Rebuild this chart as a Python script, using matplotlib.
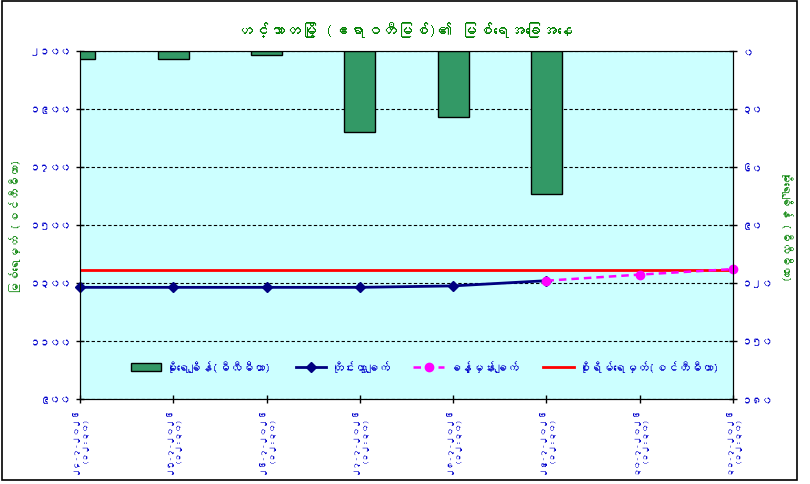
import matplotlib
matplotlib.use("Agg")
import matplotlib.pyplot as plt
from matplotlib import font_manager
from matplotlib.ft2font import FT2Font
from matplotlib.patches import Rectangle

# Myanmar digits for tick labels
MM_DIGITS = str.maketrans("0123456789", "၀၁၂၃၄၅၆၇၈၉")

def mm(n):
    return str(n).translate(MM_DIGITS)

def find_myanmar_family():
    # look for any installed font that actually has Myanmar glyphs
    for f in font_manager.fontManager.ttflist:
        try:
            ft = FT2Font(f.fname)
            if ft.get_char_index(ord("က")) and ft.get_char_index(ord("၁")):
                return f.name
        except Exception:
            continue
    return None

title = "ဟင်္သာတမြို့ (ဧရာဝတီမြစ်)၏ မြစ်ရေအခြေအနေ"
left_label = "မြစ်ရေမှတ် (စင်တီမီတာ)"
right_label = "မိုးရေချိန် (မီလီမီတာ)"

dates = ["၂၄-၇-၂၀၂၆", "၂၅-၇-၂၀၂၆", "၂၆-၇-၂၀၂၆", "၂၇-၇-၂၀၂၆",
         "၂၈-၇-၂၀၂၆", "၂၉-၇-၂၀၂၆", "၃၀-၇-၂၀၂၆", "၃၁-၇-၂၀၂၆"]
obs_time = "(၁၂:၃၀)"

rain_mm = [4, 4, 2, 42, 34, 74]            # days 0..5
observed = [1285, 1285, 1285, 1285, 1290, 1308]   # days 0..5
forecast = [1308, 1329, 1348]             # days 5..7
danger_level = 1345

level_ticks = [900, 1100, 1300, 1500, 1700, 1900, 2100]
rain_ticks = [0, 30, 60, 90, 120, 150, 180]

legend_labels = ["မိုးရေချိန်(မီလီမီတာ)", "တိုင်းထွာချက်",
                 "ခန့်မှန်းချက်", "စိုးရိမ်ရေမှတ်(စင်တီမီတာ)"]

mm_family = find_myanmar_family()
if mm_family:
    plt.rcParams["font.family"] = [mm_family, "DejaVu Sans"]
    tick_size, date_size, label_size, title_size, leg_size = 7.5, 6, 8.5, 11.5, 8.5
else:
    plt.rcParams["font.family"] = ["DejaVu Sans"]
    tick_size, date_size, label_size, title_size, leg_size = 7, 5.5, 8, 10, 6.5

tick_blue = "#0000CC"
green = "#008000"

fig = plt.figure(figsize=(8.1, 4.85), dpi=100)
ax = fig.add_axes([80 / 810, 1 - 400 / 485, 653 / 810, 348 / 485])
ax.set_facecolor("#CCFFFF")

x_all = list(range(len(dates)))
x_obs = x_all[:len(observed)]
x_fc = x_all[len(observed) - 1:]

# water level lines
l_obs, = ax.plot(x_obs, observed, color="#000080", lw=2, marker="D", ms=5,
                 zorder=4, clip_on=False)
l_fc, = ax.plot(x_fc, forecast, color="#FF00FF", lw=1.8, ls=(0, (3, 2)),
                marker="o", ms=6, zorder=4, clip_on=False)
l_dng = ax.axhline(danger_level, color="#FF0000", lw=2, zorder=3)

ax.set_xlim(0, len(dates) - 1)
ax.set_ylim(900, 2100)
ax.set_yticks(level_ticks)
ax.set_yticklabels([mm(v) for v in level_ticks], fontsize=tick_size, fontweight="bold")
ax.set_xticks(x_all)
ax.set_xticklabels([f"{d}\n{obs_time}" for d in dates], rotation=90,
                   fontsize=date_size, fontweight="bold", linespacing=1.5)
ax.tick_params(axis="both", direction="inout", length=6, width=1, colors="black")
ax.tick_params(axis="x", pad=2)
for t in ax.get_xticklabels() + ax.get_yticklabels():
    t.set_color(tick_blue)
ax.grid(axis="y", color="black", ls=(0, (3, 2)), lw=0.8)
ax.set_axisbelow(True)
ax.set_ylabel(left_label, color=green, fontsize=label_size, fontweight="bold", labelpad=6)
for s in ax.spines.values():
    s.set_color("black")
ax.spines["top"].set_color("#808080")

# rainfall bars on secondary inverted axis
ax2 = ax.twinx()
bars = ax2.bar(x_all[:len(rain_mm)], rain_mm, width=0.33, color="#339966",
               edgecolor="black", lw=1, zorder=2)
ax2.set_ylim(180, 0)
ax2.set_yticks(rain_ticks)
ax2.set_yticklabels([mm(v) for v in rain_ticks], fontsize=tick_size, fontweight="bold")
for t in ax2.get_yticklabels():
    t.set_color(tick_blue)
ax2.tick_params(axis="y", direction="inout", length=6, width=1)
ax2.set_ylabel(right_label, color=green, fontsize=label_size, fontweight="bold",
               rotation=270, labelpad=14)

fig.text(0.5, 1 - 30 / 485, title, ha="center", va="center",
         color=green, fontsize=title_size, fontweight="bold")

fig.legend([bars, l_obs, l_fc, l_dng], legend_labels, loc="center",
           bbox_to_anchor=(425 / 810, 1 - 367 / 485), ncol=4, frameon=False,
           handlelength=2.6, columnspacing=2.0, handletextpad=0.4,
           labelcolor=tick_blue, prop={"weight": "bold", "size": leg_size})

# outer chart frame
fig.patches.append(Rectangle((2 / 810, 4 / 485), 795 / 810, 479 / 485,
                             transform=fig.transFigure, fill=False,
                             edgecolor="black", lw=1.2))

fig.savefig("out.png", dpi=100)
